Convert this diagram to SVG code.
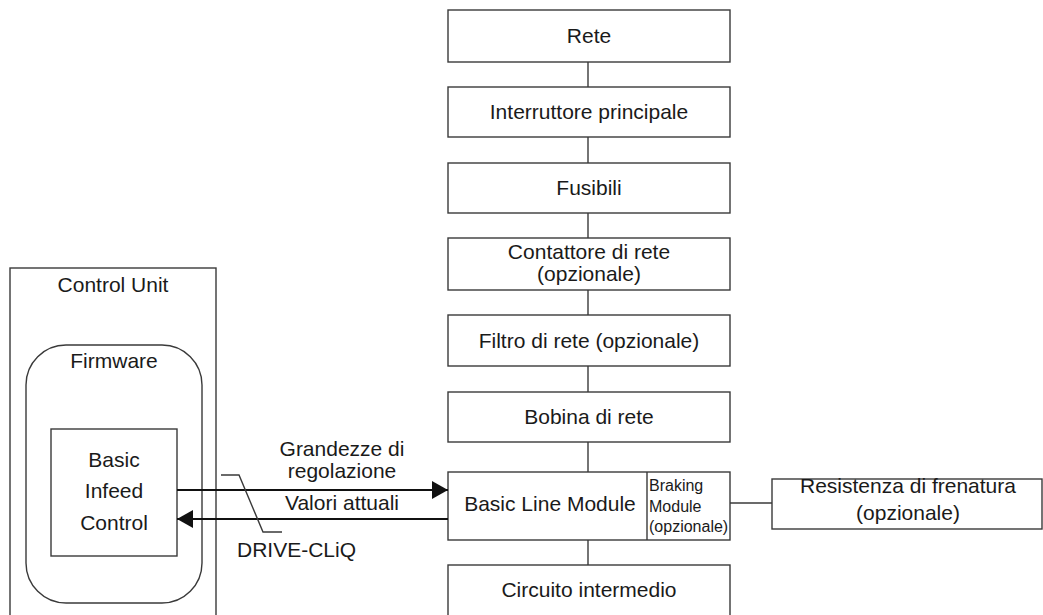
<svg xmlns="http://www.w3.org/2000/svg" width="1043" height="615" viewBox="0 0 1043 615">
  <style>
    .box { fill: #ffffff; stroke: #3a3a3a; stroke-width: 1.4; }
    .frame { fill: none; stroke: #3a3a3a; stroke-width: 1.4; }
    .line { fill: none; stroke: #3a3a3a; stroke-width: 1.4; }
    .sig { fill: none; stroke: #111111; stroke-width: 2.2; }
    text { font-family: "Liberation Sans", Arial, sans-serif; font-size: 21px; fill: #1a1a1a; }
    .c { text-anchor: middle; }
    .small { font-size: 16px; }
  </style>
  <defs>
    <marker id="arrow" viewBox="0 0 16 18" refX="16" refY="9" markerWidth="16" markerHeight="18" markerUnits="userSpaceOnUse" orient="auto">
      <path d="M0,0 L16,9 L0,18 Z" fill="#111111"/>
    </marker>
  </defs>

  <rect width="1043" height="615" fill="#ffffff"/>

  <!-- control unit side -->
  <g id="control-unit">
    <rect class="frame" x="10" y="268" width="206" height="360"/>
    <text class="c" x="113" y="292">Control Unit</text>
  </g>
  <g id="firmware">
    <rect class="frame" x="26" y="345" width="176" height="258" rx="40" ry="40"/>
    <text class="c" x="114" y="368">Firmware</text>
  </g>
  <g id="basic-infeed-control">
    <rect class="box" x="51" y="429" width="126" height="127"/>
    <text class="c" x="114" y="467">Basic</text>
    <text class="c" x="114" y="498">Infeed</text>
    <text class="c" x="114" y="530">Control</text>
  </g>

  <!-- power chain -->
  <g id="rete">
    <rect class="box" x="448" y="10" width="282" height="52"/>
    <text class="c" x="589" y="43">Rete</text>
  </g>
  <g id="interruttore">
    <rect class="box" x="448" y="87" width="282" height="50"/>
    <text class="c" x="589" y="119">Interruttore principale</text>
  </g>
  <g id="fusibili">
    <rect class="box" x="448" y="163" width="282" height="50"/>
    <text class="c" x="589" y="195">Fusibili</text>
  </g>
  <g id="contattore">
    <rect class="box" x="448" y="238" width="282" height="52"/>
    <text class="c" x="589" y="259">Contattore di rete</text>
    <text class="c" x="589" y="281">(opzionale)</text>
  </g>
  <g id="filtro">
    <rect class="box" x="448" y="315" width="282" height="51"/>
    <text class="c" x="589" y="348">Filtro di rete (opzionale)</text>
  </g>
  <g id="bobina">
    <rect class="box" x="448" y="392" width="282" height="50"/>
    <text class="c" x="589" y="424">Bobina di rete</text>
  </g>
  <g id="basic-line-module">
    <rect class="box" x="448" y="472" width="282" height="68"/>
    <line class="line" x1="647" y1="472" x2="647" y2="540"/>
    <text class="c" x="550" y="511">Basic Line Module</text>
    <text class="small" x="649" y="491">Braking</text>
    <text class="small" x="649" y="512">Module</text>
    <text class="small" x="649" y="532">(opzionale)</text>
  </g>
  <g id="circuito">
    <rect class="box" x="448" y="565" width="282" height="70"/>
    <text class="c" x="589" y="597">Circuito intermedio</text>
  </g>
  <g id="resistenza">
    <rect class="box" x="772" y="479" width="270" height="50"/>
    <text class="c" x="908" y="493">Resistenza di frenatura</text>
    <text class="c" x="908" y="520">(opzionale)</text>
  </g>

  <!-- connectors -->
  <g id="connectors">
    <line class="line" x1="588" y1="62" x2="588" y2="87"/>
    <line class="line" x1="588" y1="137" x2="588" y2="163"/>
    <line class="line" x1="588" y1="213" x2="588" y2="238"/>
    <line class="line" x1="588" y1="290" x2="588" y2="315"/>
    <line class="line" x1="588" y1="366" x2="588" y2="392"/>
    <line class="line" x1="588" y1="442" x2="588" y2="472"/>
    <line class="line" x1="588" y1="540" x2="588" y2="565"/>
    <line class="line" x1="730" y1="503" x2="772" y2="503"/>
    <line class="sig" x1="177" y1="490" x2="448" y2="490" marker-end="url(#arrow)"/>
    <line class="sig" x1="448" y1="519" x2="177" y2="519" marker-end="url(#arrow)"/>
    <polyline class="line" points="221,475 239,475 263,532 282,532"/>
    <text class="c" x="342" y="456">Grandezze di</text>
    <text class="c" x="342" y="478">regolazione</text>
    <text class="c" x="342" y="510">Valori attuali</text>
    <text x="237" y="557">DRIVE-CLiQ</text>
  </g>
</svg>
